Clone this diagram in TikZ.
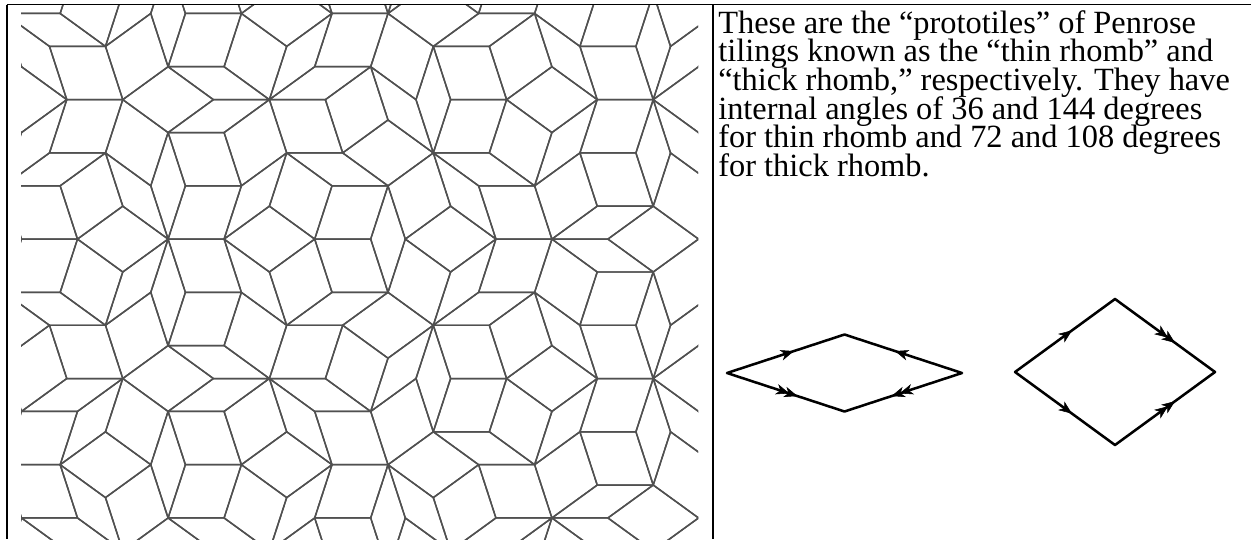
\documentclass[tikz,border=0pt]{standalone}
\usepackage{fontspec}
\setmainfont{Liberation Serif}
\usetikzlibrary{arrows.meta,decorations.markings}
\definecolor{tilegray}{RGB}{80,80,80}

% ---------- Penrose rhomb tiling by de Bruijn's pentagrid ----------
\def\PRL{56}\def\PRcx{360}\def\PRcy{272}
\expandafter\def\csname PRg0\endcsname{0.13}
\expandafter\def\csname PRg1\endcsname{0.27}
\expandafter\def\csname PRg2\endcsname{-0.21}
\expandafter\def\csname PRg3\endcsname{0.24}
\expandafter\def\csname PRg4\endcsname{-0.43}
\foreach \PRi in {0,...,4}{%
  \expandafter\xdef\csname PRc\PRi\endcsname{\fpeval{cosd(72*\PRi)}}%
  \expandafter\xdef\csname PRs\PRi\endcsname{\fpeval{sind(72*\PRi)}}}
\def\PRc#1{\csname PRc#1\endcsname}
\def\PRs#1{\csname PRs#1\endcsname}
\def\PRg#1{\csname PRg#1\endcsname}
\newcommand\PRk[5]{%
  \ifnum#1=#2 \def\PRK{#4}\else
    \ifnum#1=#3 \def\PRK{#5}\else
      \edef\PRK{\fpeval{ceil((\PRx)*(\PRc{#1})+(\PRy)*(\PRs{#1})+(\PRg{#1}))}}%
    \fi
  \fi
  \edef\PX{\fpeval{(\PX)+(\PRK)*(\PRc{#1})}}%
  \edef\PY{\fpeval{(\PY)+(\PRK)*(\PRs{#1})}}%
}
\newcommand\PRrhomb[4]{%
  \edef\PRu{\fpeval{(#3)-(\PRg{#1})}}%
  \edef\PRv{\fpeval{(#4)-(\PRg{#2})}}%
  \edef\PRdet{\fpeval{(\PRc{#1})*(\PRs{#2})-(\PRs{#1})*(\PRc{#2})}}%
  \edef\PRx{\fpeval{((\PRu)*(\PRs{#2})-(\PRv)*(\PRs{#1}))/(\PRdet)}}%
  \edef\PRy{\fpeval{((\PRc{#1})*(\PRv)-(\PRc{#2})*(\PRu))/(\PRdet)}}%
  \ifnum\fpeval{(abs(\PRx)<3.8) && (abs(\PRy)<3.2)}=1
    \def\PX{0}\def\PY{0}%
    \PRk{0}{#1}{#2}{#3}{#4}\PRk{1}{#1}{#2}{#3}{#4}\PRk{2}{#1}{#2}{#3}{#4}%
    \PRk{3}{#1}{#2}{#3}{#4}\PRk{4}{#1}{#2}{#3}{#4}%
    \edef\PAx{\fpeval{round(\PRcx+\PRL*(\PX),2)}}%
    \edef\PAy{\fpeval{round(\PRcy+\PRL*(\PY),2)}}%
    \edef\PBx{\fpeval{round(\PRcx+\PRL*((\PX)+(\PRc{#1})),2)}}%
    \edef\PBy{\fpeval{round(\PRcy+\PRL*((\PY)+(\PRs{#1})),2)}}%
    \edef\PCx{\fpeval{round(\PRcx+\PRL*((\PX)+(\PRc{#1})+(\PRc{#2})),2)}}%
    \edef\PCy{\fpeval{round(\PRcy+\PRL*((\PY)+(\PRs{#1})+(\PRs{#2})),2)}}%
    \edef\PDx{\fpeval{round(\PRcx+\PRL*((\PX)+(\PRc{#2})),2)}}%
    \edef\PDy{\fpeval{round(\PRcy+\PRL*((\PY)+(\PRs{#2})),2)}}%
    \draw[tile] (\PAx,\PAy) -- (\PBx,\PBy) -- (\PCx,\PCy) -- (\PDx,\PDy) -- cycle;
  \fi
}

\tikzset{
  tile/.style={draw=tilegray, line width=1.1pt, line join=round},
  rule/.style={draw=black, line width=1.1pt},
  txt/.style={inner sep=0pt, anchor=base west, font=\fontsize{24.3}{28}\selectfont},
  edge/.style={draw=black, line width=1.9pt, line join=round},
  tipA/.style={postaction={decorate}, decoration={markings,
      mark=at position 0.57 with {\arrow{Stealth[length=10pt,width=8pt,inset=3pt]}}}},
  tipB/.style={postaction={decorate}, decoration={markings,
      mark=at position 0.53 with {\arrow{Stealth[length=10pt,width=8pt,inset=3pt]}},
      mark=at position 0.60 with {\arrow{Stealth[length=10pt,width=8pt,inset=3pt]}}}},
}

\begin{document}
\begin{tikzpicture}[x=0.75pt, y=-0.75pt]
\useasboundingbox (0,0) rectangle (1251,539);
\fill[white] (0,0) rectangle (1251,539);

% tiling picture in the left cell
\begin{scope}
  \clip (21,5) rectangle (698,539);
  \foreach \PRI in {0,...,4}{%
    \foreach \PRJ in {0,...,4}{%
      \ifnum\PRI<\PRJ
        \foreach \PRM in {-4,...,4}{%
          \foreach \PRN in {-4,...,4}{%
            \PRrhomb{\PRI}{\PRJ}{\PRM}{\PRN}%
          }%
        }%
      \fi
    }%
  }
\end{scope}

% table rules
\coordinate (tl) at (6.5,4.5);
\coordinate (tr) at (1251,4.5);
\coordinate (bl) at (6.5,539);
\coordinate (mt) at (713,4.5);
\coordinate (mb) at (713,539);
\draw[rule] (tl) -- (tr);
\draw[rule, line width=1.5pt] (tl) -- (bl);
\draw[rule] (mt) -- (mb);

% text
\node[txt] (t1) at (718,33)  {These are the “prototiles” of Penrose};
\node[txt] (t2) at (718,61.7) {tilings known as the “thin rhomb” and};
\node[txt] (t3) at (718,90.4) {“thick rhomb,” respectively. They have};
\node[txt] (t4) at (718,119.1) {internal angles of 36 and 144 degrees};
\node[txt] (t5) at (718,147.8) {for thin rhomb and 72 and 108 degrees};
\node[txt] (t6) at (718,176.5) {for thick rhomb.};

% thin rhomb
\coordinate (nL) at (727,373);
\coordinate (nT) at (844.5,334.5);
\coordinate (nR) at (962,373);
\coordinate (nB) at (844.5,411.5);
\draw[edge] (nL) -- (nT) -- (nR) -- (nB) -- cycle;
\path[tipA] (nL) -- (nT);
\path[tipA] (nR) -- (nT);
\path[tipB] (nL) -- (nB);
\path[tipB] (nR) -- (nB);

% thick rhomb
\coordinate (kL) at (1015,372);
\coordinate (kT) at (1115,299);
\coordinate (kR) at (1215,372);
\coordinate (kB) at (1115,445);
\draw[edge] (kL) -- (kT) -- (kR) -- (kB) -- cycle;
\path[tipA] (kL) -- (kT);
\path[tipB] (kT) -- (kR);
\path[tipA] (kL) -- (kB);
\path[tipB] (kB) -- (kR);
\end{tikzpicture}
\end{document}
